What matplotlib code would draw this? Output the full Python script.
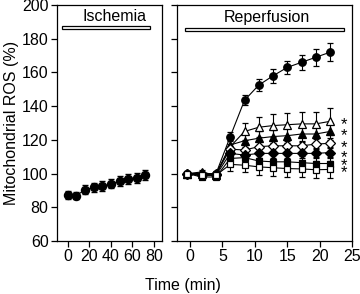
import numpy as np
import matplotlib.pyplot as plt

plt.rcParams['font.family'] = ['Liberation Sans', 'DejaVu Sans']

# ischemia phase (left panel)
isch_t = [0, 8, 16, 24, 32, 40, 48, 56, 64, 72]
isch_ros = [87.3, 87, 90.5, 91.8, 92.5, 94, 95.5, 96.8, 97.6, 99]
isch_err = [2.5, 2.2, 2.5, 2.5, 3, 2.8, 3, 3.2, 3, 3]

# reperfusion phase (right panel)
rep_t = [-0.4, 1.8, 4.0, 6.2, 8.4, 10.6, 12.8, 15.0, 17.2, 19.4, 21.6]
rep_series = {
    "circle_filled": [100, 99, 100, 122, 143.5, 152.5, 158, 163, 166, 169, 172],
    "tri_open": [100, 100, 100, 116, 125, 127.5, 128.5, 129, 129.5, 129.5, 131],
    "tri_filled": [100, 101, 99, 117, 119.5, 121, 122, 122.5, 123.5, 123.5, 125],
    "diamond_open": [100, 100, 100, 114.5, 114, 116, 116.5, 116.5, 116.5, 117.5, 118],
    "diamond_filled": [100, 99, 99, 112, 111, 112, 112, 112, 112, 112, 112.5],
    "square_filled": [100, 98, 98, 109, 109.5, 107.5, 107, 107, 106.5, 106, 106],
    "square_open": [100, 99, 99, 105.5, 105, 104, 103.5, 103, 102.8, 102.3, 102.5],
}
rep_errors = {
    "circle_filled": [1.5, 1.5, 1.5, 2.5, 3, 3.5, 4, 4, 4.5, 5, 5.5],
    "tri_open": [1, 1, 1, 4, 5, 6, 7, 7, 7, 7, 8],
    "tri_filled": [1, 1, 1, 4, 4, 4, 4, 4.5, 4.5, 4.5, 5],
    "diamond_open": [1, 1, 1, 3, 3, 3, 3, 3, 3, 3, 3],
    "diamond_filled": [1, 1, 1, 3, 3, 3, 3, 3, 3, 3, 3],
    "square_filled": [1, 1, 1, 4, 4, 4, 4, 4, 4, 4, 4],
    "square_open": [1, 1, 1, 4, 4, 5, 5, 5, 5, 5, 5],
}
styles = {
    "circle_filled": ("o", "black", 5.4),
    "tri_open": ("^", "white", 5.8),
    "tri_filled": ("^", "black", 5.8),
    "diamond_open": ("D", "white", 4.8),
    "diamond_filled": ("D", "black", 4.8),
    "square_filled": ("s", "black", 5.0),
    "square_open": ("s", "white", 5.0),
}
star_y = [131.3, 124.8, 117.6, 111.9, 106.8, 102.7]
star_x = 23.7

fig = plt.figure(figsize=(3.6, 2.94), dpi=100)
ax1 = fig.add_axes([0.158, 0.180, 0.292, 0.803])
ax2 = fig.add_axes([0.492, 0.180, 0.486, 0.803])

fs = 11.5

# left panel
ax1.errorbar(isch_t, isch_ros, yerr=isch_err, color="black", lw=0.8, marker="o",
             ms=5.8, mfc="black", mec="black", capsize=2, elinewidth=0.8)
ax1.set_xlim(-10.2, 87.4)
ax1.set_xticks([0, 20, 40, 60, 80])
ax1.add_patch(plt.Rectangle((-5.9, 185.7), 82.5, 1.6, facecolor="white",
                            edgecolor="black", lw=0.9))
ax1.text(43.7, 193, "Ischemia", ha="center", va="center", fontsize=fs)
ax1.set_ylabel("Mitochondrial ROS (%)", fontsize=fs, labelpad=2)

# right panel
for key, vals in rep_series.items():
    m, fc, ms = styles[key]
    ax2.errorbar(rep_t, vals, yerr=rep_errors[key], color="black", lw=0.8,
                 marker=m, ms=ms, mfc=fc, mec="black", mew=0.9,
                 capsize=2, elinewidth=0.8)
for y in star_y:
    ax2.text(star_x, y - 2.3, "*", ha="center", va="center", fontsize=12)
ax2.set_xlim(-2, 25)
ax2.set_xticks([0, 5, 10, 15, 20, 25])
ax2.add_patch(plt.Rectangle((-0.8, 184.7), 24.6, 1.8, facecolor="white",
                            edgecolor="black", lw=0.9))
ax2.text(11.9, 192.7, "Reperfusion", ha="center", va="center", fontsize=fs)

for ax in (ax1, ax2):
    ax.set_ylim(60, 200)
    ax.set_yticks(range(60, 201, 20))
    ax.tick_params(direction="out", length=4, width=0.9, labelsize=fs, pad=2)
    for s in ax.spines.values():
        s.set_linewidth(0.9)
ax2.set_yticklabels([])

fig.text(0.508, 0.03, "Time (min)", ha="center", va="center", fontsize=fs)

fig.savefig("out.png", dpi=100)
